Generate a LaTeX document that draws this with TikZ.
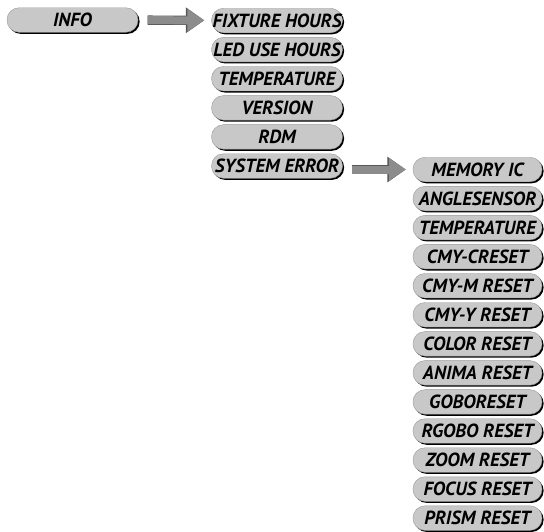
\documentclass[tikz,border=0pt]{standalone}
\usepackage{fontspec}
\setmainfont{PT Sans}
\usetikzlibrary{shapes, shadows, positioning, arrows.meta}

\definecolor{menugrey}{RGB}{200,200,200}
\definecolor{arrowgrey}{RGB}{140,140,140}
\definecolor{arrowedge}{RGB}{85,85,85}

\tikzset{
  menubox/.style={draw=gray!80, line width=0.4pt, fill=menugrey,
    rounded corners=12pt, minimum width=131pt, minimum height=24.5pt,
    inner sep=0pt, font=\bfseries\itshape\fontsize{19}{19}\selectfont,
    general shadow={fill=black, shadow xshift=1.6pt, shadow yshift=-1.6pt}},
  bigarrow/.style={draw=arrowgrey, line width=8pt,
    -{Triangle[length=17pt, width=22pt]},
    preaction={draw=arrowedge, line width=9.4pt,
      -{Triangle[length=18.5pt, width=24.5pt]}}}
}

\begin{document}
\begin{tikzpicture}[x=1pt, y=1pt]
  \useasboundingbox (0,0) rectangle (544,-531);

  \node[menubox] (info) at (72.5,-20) {INFO};

  % second column
  \foreach \t [count=\i] in {FIXTURE HOURS, LED USE HOURS, TEMPERATURE,
      VERSION, RDM, SYSTEM ERROR}
  {
    \node[menubox] (m\i) at (277, {-20.5 - 29.1*(\i - 1)}) {\t};
  }

  % third column
  \foreach \t [count=\i] in {MEMORY IC, ANGLESENSOR, TEMPERATURE, CMY-CRESET,
      CMY-M RESET, CMY-Y RESET, COLOR RESET, ANIMA RESET, GOBORESET,
      RGOBO RESET, ZOOM RESET, FOCUS RESET, PRISM RESET}
  {
    \node[menubox, minimum width=129pt] (s\i) at (477.5, {-169.5 - 29.05*(\i - 1)}) {\t};
  }

  \draw[bigarrow, shorten <=9.5pt, shorten >=7pt] (info) -- (m1);
  \draw[bigarrow, shorten <=9pt, shorten >=7pt] (m6.east |- s1.west) -- (s1.west);
\end{tikzpicture}
\end{document}
